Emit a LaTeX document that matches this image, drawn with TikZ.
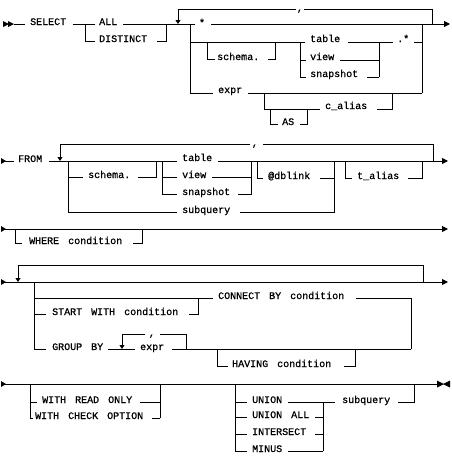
\documentclass[tikz,border=0pt]{standalone}
\usepackage{fontspec}
\newfontfamily\rrfont[WordSpace=1.5,FakeBold=0.8]{Liberation Mono}
\usetikzlibrary{arrows.meta}
\tikzset{
  kw/.style={anchor=base west, inner sep=0pt, font=\rrfont\fontsize{10}{12}\selectfont},
  commalbl/.style={anchor=base, inner sep=0pt, font=\rrfont\fontsize{10}{12}\selectfont},
  rl/.style={line width=0.9pt},
  endarr/.style={rl,-{Triangle[length=6pt,width=6pt]}},
  downarr/.style={rl,-{Triangle[length=4pt,width=5pt]}}
}
\begin{document}
\begin{tikzpicture}[x=1pt,y=-1pt]
\fill[white] (0,0) rectangle (451,458);
\useasboundingbox (0,0) rectangle (451,458);

% ---------- Row 1: SELECT ----------
\fill (3,21)--(3,27)--(9,24)--cycle;
\fill (8,21)--(8,27)--(14,24)--cycle;
\draw[rl] (14,24)--(25,24);
\node[kw] (select) at (30,25) {SELECT};
\draw[rl] (73,24)--(95,24);
\node[kw] (all) at (99,25) {ALL};
\draw[rl] (123,24)--(195,24);
\draw[rl] (85,24)--(85,41)--(95,41);
\node[kw] (distinct) at (99,42) {DISTINCT};
\draw[rl] (157,41)--(166,41)--(166,24);
% loop
\draw[rl] (432,24)--(432,9)--(304,9);
\node[commalbl] (c1) at (300,11) {,};
\draw[downarr] (296,9)--(178,9)--(178,24);
\node[commalbl] (star) at (202,26) {*};
\draw[endarr] (211,24)--(450,24);
\draw[rl] (190,24)--(190,93);
% schema.table.*
\draw[rl] (190,42)--(305,42);
\draw[rl] (207,42)--(207,59)--(215,59);
\node[kw] (schema1) at (217,60) {schema.};
\draw[rl] (268,59)--(275,59)--(275,42);
\node[kw] (table1) at (310,42) {table};
\draw[rl] (348,42)--(393,42);
\node[kw] (dotstar) at (397,42) {.*};
\draw[rl] (414,42)--(422,42);
\draw[rl] (300,42)--(300,77);
\draw[rl] (300,60)--(306,60);
\node[kw] (view1) at (310,60) {view};
\draw[rl] (340,60)--(379,60);
\draw[rl] (300,77)--(306,77);
\node[kw] (snap1) at (310,77) {snapshot};
\draw[rl] (367,77)--(379,77);
\draw[rl] (379,42)--(379,77);
\draw[rl] (422,24)--(422,93);
% expr
\draw[rl] (190,93)--(213,93);
\node[kw] (expr1) at (218,93) {expr};
\draw[rl] (248,93)--(422,93);
\draw[rl] (264,93)--(264,109)--(320,109);
\node[kw] (calias) at (325,109) {c\_alias};
\draw[rl] (377,109)--(392,109)--(392,93);
\draw[rl] (270,109)--(270,124)--(278,124);
\node[kw] (as) at (282,125) {AS};
\draw[rl] (300,124)--(307,124)--(307,109);

% ---------- Row 2: FROM ----------
\fill (1,158)--(1,164)--(6,161)--cycle;
\draw[rl] (5,161)--(14,161);
\node[kw] (from) at (18,162) {FROM};
\draw[rl] (49,161)--(177,161);
\node[kw] (table2) at (182,161) {table};
\draw[endarr] (218,161)--(448,161);
\draw[rl] (433,161)--(433,144)--(263,144);
\node[commalbl] (c2) at (255,146) {,};
\draw[downarr] (250,144)--(60,144)--(60,161);
\draw[rl] (68,161)--(68,212);
\draw[rl] (68,177)--(83,177);
\node[kw] (schema2) at (88,178) {schema.};
\draw[rl] (138,177)--(156,177)--(156,161);
\draw[rl] (162,161)--(162,194);
\draw[rl] (162,177)--(177,177);
\node[kw] (view2) at (182,178) {view};
\draw[rl] (212,177)--(251,177);
\draw[rl] (162,194)--(177,194);
\node[kw] (snap2) at (182,195) {snapshot};
\draw[rl] (238,194)--(251,194)--(251,161);
\draw[rl] (68,212)--(177,212);
\node[kw] (subq1) at (182,213) {subquery};
\draw[rl] (240,212)--(334,212)--(334,161);
\draw[rl] (257,161)--(257,178)--(263,178);
\node[kw] (dblink) at (268,179) {@dblink};
\draw[rl] (320,178)--(334,178);
\draw[rl] (345,161)--(345,178)--(352,178);
\node[kw] (talias) at (357,179) {t\_alias};
\draw[rl] (408,178)--(422,178)--(422,161);

% ---------- Row 3: WHERE ----------
\fill (1,226)--(1,232)--(6,229)--cycle;
\draw[endarr] (5,229)--(448,229);
\draw[rl] (15,229)--(15,243)--(22,243);
\node[kw] (where) at (29,244) {WHERE condition};
\draw[rl] (133,243)--(142,243)--(142,229);

% ---------- Row 4: CONNECT BY / GROUP BY ----------
\fill (1,279)--(1,285)--(6,282)--cycle;
\draw[endarr] (5,282)--(448,282);
\draw[rl] (423,282)--(423,265);
\draw[downarr] (423,265)--(18,265)--(18,282);
\draw[rl] (34,282)--(34,349);
\draw[rl] (34,298)--(213,298);
\node[kw] (connect) at (218,299) {CONNECT BY condition};
\draw[rl] (356,298)--(411,298)--(411,349);
\draw[rl] (34,314)--(46,314);
\node[kw] (start) at (52,315) {START WITH condition};
\draw[rl] (189,314)--(198,314)--(198,298);
\draw[rl] (34,349)--(46,349);
\node[kw] (group) at (52,350) {GROUP BY};
\draw[rl] (108,349)--(135,349);
\draw[rl] (186,349)--(186,334)--(160,334);
\node[commalbl] (c3) at (152,336) {,};
\draw[downarr] (145,334)--(122,334)--(122,349);
\node[kw] (expr2) at (140,350) {expr};
\draw[rl] (172,349)--(411,349);
\draw[rl] (217,349)--(217,366)--(228,366);
\node[kw] (having) at (232,367) {HAVING condition};
\draw[rl] (344,366)--(355,366)--(355,349);

% ---------- Row 5: WITH / UNION ----------
\fill (1,381)--(1,387)--(6,384)--cycle;
\draw[rl] (5,384)--(438,384);
\fill (437,380.5)--(437,387.5)--(444,384)--cycle;
\fill (450,380.5)--(450,387.5)--(443,384)--cycle;
\draw[rl] (30,384)--(30,418);
\draw[rl] (30,402)--(37,402);
\node[kw] (readonly) at (42,403) {WITH READ ONLY};
\draw[rl] (140,402)--(160,402);
\draw[rl] (160,384)--(160,418);
\draw[rl] (30,418)--(33,418);
\node[kw] (checkopt) at (35,419) {WITH CHECK OPTION};
\draw[rl] (152,418)--(160,418);
\draw[rl] (235,384)--(235,451);
\draw[rl] (235,402)--(247,402);
\node[kw] (union) at (252,403) {UNION};
\draw[rl] (288,402)--(335,402);
\node[kw] (subq2) at (342,403) {subquery};
\draw[rl] (398,402)--(414,402)--(414,384);
\draw[rl] (323,402)--(323,451);
\draw[rl] (235,417)--(247,417);
\node[kw] (unionall) at (252,418) {UNION ALL};
\draw[rl] (315,417)--(323,417);
\draw[rl] (235,434)--(247,434);
\node[kw] (intersect) at (252,435) {INTERSECT};
\draw[rl] (315,434)--(323,434);
\draw[rl] (235,451)--(247,451);
\node[kw] (minus) at (252,452) {MINUS};
\draw[rl] (288,451)--(323,451);
\end{tikzpicture}
\end{document}
